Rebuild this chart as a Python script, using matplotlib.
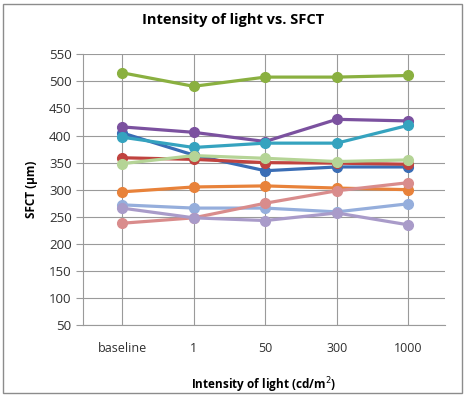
import matplotlib
matplotlib.use("Agg")
import matplotlib.pyplot as plt
from matplotlib.patches import Rectangle

# categories on the x axis
categories = ["baseline", "1", "50", "300", "1000"]

# SFCT (um) per subject
green = [516, 491, 508, 508, 511]
purple = [416, 406, 389, 430, 427]
blue = [405, 364, 335, 342, 342]
teal = [397, 378, 386, 386, 419]
red = [359, 356, 350, 349, 347]
light_green = [348, 363, 358, 352, 355]
orange = [296, 305, 307, 303, 300]
light_blue = [272, 266, 266, 259, 274]
lavender = [266, 248, 243, 257, 235]
pink = [238, 248, 275, 298, 313]

series = [
    (blue, "#3a6db5"),
    (red, "#c0433f"),
    (green, "#8ab040"),
    (purple, "#7b519f"),
    (teal, "#35a3bf"),
    (orange, "#e8823a"),
    (light_blue, "#95aedc"),
    (pink, "#d98c8c"),
    (light_green, "#b5d496"),
    (lavender, "#a99bc9"),
]

plt.rcParams['font.family'] = ['Open Sans', 'DejaVu Sans']

fig = plt.figure(figsize=(4.68, 3.98), dpi=100)
ax = fig.add_axes([0.1767, 0.1834, 0.774, 0.680])

x = list(range(len(categories)))
for vals, col in series:
    ax.plot(x, vals, color=col, lw=2.3, marker='o', ms=7, mec=col, mfc=col, zorder=3)

ax.set_ylim(50, 550)
ax.set_yticks(range(50, 551, 50))
ax.set_xlim(-0.55, 4.51)
ax.set_xticks(x)
ax.set_xticklabels(categories)
ax.grid(True, color='#9a9a9a', lw=0.8, zorder=0)
ax.set_axisbelow(True)
for s in ['top', 'right']:
    ax.spines[s].set_visible(False)
for s in ['left', 'bottom']:
    ax.spines[s].set_color('#9a9a9a')
ax.tick_params(axis='y', length=5, color='#9a9a9a', labelsize=9.5, pad=3, labelcolor='#303030')
ax.tick_params(axis='x', length=0, labelsize=9, pad=12, labelcolor='#303030')

ax.set_ylabel("SFCT (μm)", fontsize=8.5, fontweight='bold', labelpad=8)
ax.set_xlabel("Intensity of light (cd/m$^2$)", fontsize=8.5, fontweight='bold', labelpad=15)
fig.text(0.497, 0.949, "Intensity of light vs. SFCT", ha='center', va='center',
         fontsize=10.5, fontweight='bold')

# outer chart border
fig.patches.append(Rectangle((2.5 / 468, 1 - 392.5 / 398), 459 / 468, 389 / 398,
                             transform=fig.transFigure, fill=False,
                             edgecolor='#8c8c8c', lw=1))

fig.savefig("out.png", dpi=100)
